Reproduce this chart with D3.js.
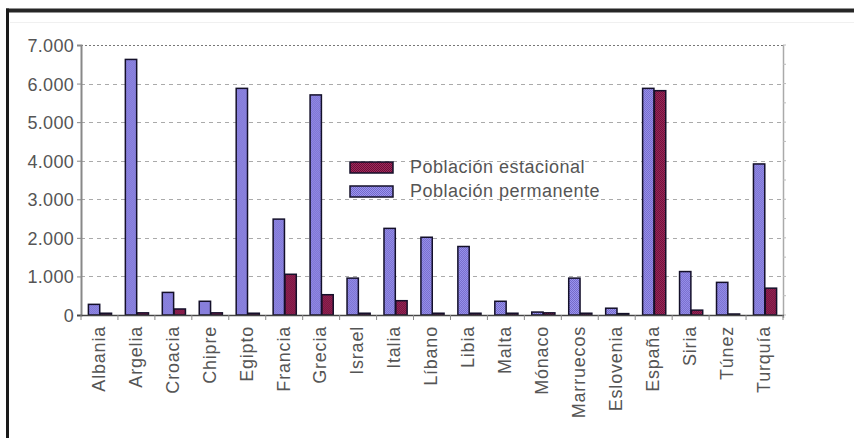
<!DOCTYPE html>
<html>
<head>
<meta charset="utf-8">
<script src="https://cdn.jsdelivr.net/npm/d3@7"></script>
<style>
  html, body { margin: 0; padding: 0; background: #fff; }
  svg { display: block; }
  text { font-family: "Liberation Sans", Arial, sans-serif; }
</style>
</head>
<body>
<svg id="chart" width="854" height="438"></svg>
<script>
const categories = ["Albania","Argelia","Croacia","Chipre","Egipto","Francia","Grecia","Israel","Italia","Líbano","Libia","Malta","Mónaco","Marruecos","Eslovenia","España","Siria","Túnez","Turquía"];
const permanente = [250, 6600, 560, 330, 5850, 2460, 5680, 930, 2220, 1990, 1750, 330, 50, 930, 150, 5850, 1100, 820, 3890];
const estacional = [20, 30, 130, 30, 20, 1030, 500, 20, 345, 20, 20, 20, 30, 20, 10, 5790, 100, 0, 670];
const seriesNames = ["Población permanente", "Población estacional"];
const legendOrder = ["Población estacional", "Población permanente"];
const yTicks = [0, 1000, 2000, 3000, 4000, 5000, 6000, 7000];

const svg = d3.select("#chart");
const W = 854, H = 438;
const plot = { left: 81, right: 783, top: 45, bottom: 315 };

// patterns (dithered look)
const defs = svg.append("defs");
function checker(id, c1, c2) {
  const p = defs.append("pattern").attr("id", id).attr("width", 2).attr("height", 2)
    .attr("patternUnits", "userSpaceOnUse");
  p.append("rect").attr("width", 2).attr("height", 2).attr("fill", c1);
  p.append("rect").attr("width", 1).attr("height", 1).attr("fill", c2);
  p.append("rect").attr("x", 1).attr("y", 1).attr("width", 1).attr("height", 1).attr("fill", c2);
}
checker("patPerm", "#9b96f0", "#7468c8");
checker("patEst", "#a02a5c", "#6a0f38");
const fills = { "Población permanente": "url(#patPerm)", "Población estacional": "url(#patEst)" };

// frame
svg.append("rect").attr("x", 0).attr("y", 0).attr("width", W).attr("height", H).attr("fill", "#fff");
svg.append("line").attr("x1", 6).attr("x2", W).attr("y1", 10.5).attr("y2", 10.5)
  .attr("stroke", "#262626").attr("stroke-width", 4);
svg.append("line").attr("x1", 7.5).attr("x2", 7.5).attr("y1", 8.5).attr("y2", H)
  .attr("stroke", "#1a1a1a").attr("stroke-width", 3);
svg.append("line").attr("x1", 10).attr("x2", W).attr("y1", 22.5).attr("y2", 22.5)
  .attr("stroke", "#f0f0f0").attr("stroke-width", 1);

const x = d3.scaleBand().domain(categories).range([plot.left, plot.right])
  .paddingInner(0.36).paddingOuter(0.18);
const xs = d3.scaleBand().domain(seriesNames).range([0, x.bandwidth()]);
const y = d3.scaleLinear().domain([0, 7000]).range([plot.bottom, plot.top]);

// gridlines
svg.append("g").selectAll("line").data(yTicks.filter(t => t > 0)).join("line")
  .attr("x1", plot.left).attr("x2", plot.right)
  .attr("y1", d => Math.round(y(d)) + 0.5).attr("y2", d => Math.round(y(d)) + 0.5)
  .attr("stroke", d => d === 7000 ? "#777" : "#aaa")
  .attr("stroke-width", d => d === 7000 ? 1.2 : 1)
  .attr("stroke-dasharray", d => d === 7000 ? "2,2" : "4,4");

// right border with minor ticks
svg.append("line").attr("x1", plot.right + 0.5).attr("x2", plot.right + 0.5)
  .attr("y1", plot.top).attr("y2", plot.bottom + 3).attr("stroke", "#aaa").attr("stroke-width", 1.5);
svg.append("g").selectAll("line").data(d3.range(0, 7001, 500)).join("line")
  .attr("x1", plot.right).attr("x2", plot.right + 3)
  .attr("y1", d => y(d)).attr("y2", d => y(d)).attr("stroke", "#bbb");

// y axis
const yAxis = d3.axisLeft(y).tickValues(yTicks).tickSize(4).tickPadding(3)
  .tickFormat(d => d === 0 ? "0" : d3.format(",")(d).replace(/,/g, "."));
const gy = svg.append("g").attr("transform", `translate(${plot.left},0)`).call(yAxis);
gy.select(".domain").attr("stroke", "#888").attr("stroke-width", 2);
gy.selectAll(".tick line").attr("stroke", "#888");
gy.selectAll(".tick text").attr("fill", "#555").attr("font-size", 18)
  .attr("letter-spacing", "0.3px").attr("dy", "0.36em");

// bars
const data = categories.map((c, i) => ({ c, vals: [
  { s: "Población permanente", v: permanente[i] },
  { s: "Población estacional", v: estacional[i] } ] }));
const groups = svg.append("g").selectAll("g").data(data).join("g")
  .attr("transform", d => `translate(${x(d.c)},0)`);
groups.selectAll("rect").data(d => d.vals).join("rect")
  .attr("x", d => xs(d.s) + 0.75)
  .attr("width", xs.bandwidth() - 0.5)
  .attr("y", d => y(d.v) - 1)
  .attr("height", d => plot.bottom - y(d.v) + 1)
  .attr("fill", d => fills[d.s])
  .attr("stroke", "#14102a").attr("stroke-width", 1.5);

// baseline
svg.append("line").attr("x1", plot.left - 4).attr("x2", plot.right + 1)
  .attr("y1", plot.bottom + 0.5).attr("y2", plot.bottom + 0.5)
  .attr("stroke", "#444").attr("stroke-width", 1.5);
// category ticks
const step = x.step();
svg.append("g").selectAll("line").data(d3.range(categories.length + 1)).join("line")
  .attr("x1", i => x(categories[0]) - x.paddingInner() * step / 2 + i * step)
  .attr("x2", i => x(categories[0]) - x.paddingInner() * step / 2 + i * step)
  .attr("y1", plot.bottom).attr("y2", plot.bottom + 5).attr("stroke", "#888");

// x labels
svg.append("g").selectAll("text").data(categories).join("text")
  .attr("transform", d => `translate(${x(d) + x.bandwidth() / 2 - 1},${plot.bottom + 11}) rotate(-90)`)
  .attr("text-anchor", "end").attr("dy", "0.35em")
  .attr("font-size", 18).attr("letter-spacing", "0.8px").attr("fill", "#555")
  .text(d => d);

// legend
const lg = svg.append("g").attr("transform", "translate(350,160)");
legendOrder.forEach((s, i) => {
  const g = lg.append("g").attr("transform", `translate(0,${i * 24})`);
  g.append("rect").attr("x", 0).attr("y", 2).attr("width", 43).attr("height", 11)
    .attr("fill", fills[s]).attr("stroke", "#14102a").attr("stroke-width", 1.5);
  g.append("text").attr("x", 60).attr("y", 13).attr("font-size", 18)
    .attr("letter-spacing", "0.5px").attr("fill", "#555").text(s);
});
</script>
</body>
</html>
